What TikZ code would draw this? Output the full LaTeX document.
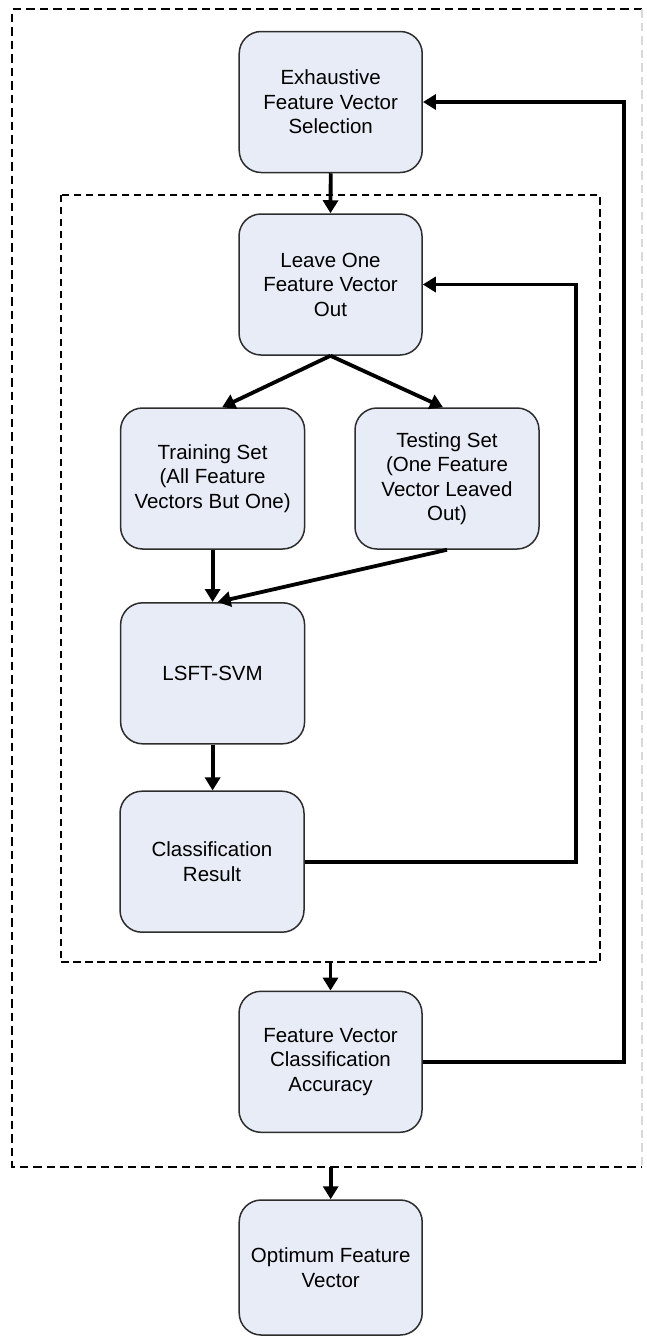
\documentclass[tikz,border=0pt]{standalone}
\usepackage{fontspec}
\setmainfont{Liberation Sans}
\usetikzlibrary{arrows.meta,calc}
\definecolor{boxfill}{RGB}{231,236,247}
\definecolor{boxline}{RGB}{45,45,45}
\tikzset{
  procbox/.style={draw=boxline, line width=1.5pt, fill=boxfill, rounded corners=22pt,
    minimum width=183pt, minimum height=141pt, inner sep=0pt, align=center,
    font=\fontsize{20.5}{24.5}\selectfont},
  flow/.style={line width=3.8pt, -{Triangle[length=13pt,width=15pt]}},
  loopline/.style={line width=3.8pt},
  outerdash/.style={line width=1.8pt, dash pattern=on 8.5pt off 5pt},
  innerdash/.style={line width=1.6pt, dash pattern=on 7.5pt off 4.5pt},
  frame/.style={draw=none, inner sep=0pt}
}
\begin{document}
\begin{tikzpicture}[x=1pt,y=-1pt]
\useasboundingbox (0,0) rectangle (646,1336);

% dashed enclosures
\node[frame, minimum width=629.5pt, minimum height=1157.7pt] (outer) at (327.25,588.15) {};
\node[frame, minimum width=538.5pt, minimum height=767pt] (inner) at (330.25,578.5) {};
\draw[outerdash] (outer.north east) -- (outer.north west) -- (outer.south west) -- (outer.south east);
\draw[outerdash, gray!30] (outer.north east) -- (outer.south east);
\draw[innerdash] (inner.north west) rectangle (inner.south east);

% process steps
\node[procbox] (select) at (330.7,102) {Exhaustive\\Feature Vector\\Selection};
\node[procbox] (leave) at (330.5,284.5) {Leave One\\Feature Vector\\Out};
\node[procbox, minimum width=184pt] (train) at (212.6,478.5) {Training Set\\(All Feature\\Vectors But One)};
\node[procbox, minimum width=184pt] (test) at (447,478.5) {Testing Set\\(One Feature\\Vector Leaved\\Out)};
\node[procbox, minimum width=184pt] (svm) at (212.6,673.3) {LSFT-SVM};
\node[procbox, minimum width=184pt] (result) at (212,861.7) {Classification\\Result};
\node[procbox] (acc) at (330.5,1061.8) {Feature Vector\\Classification\\Accuracy};
\node[procbox, minimum height=135pt] (best) at (330.7,1267.5) {Optimum Feature\\Vector};

% feedback rails
\coordinate (innerrail) at (575.6,0);
\coordinate (outerrail) at (624,0);

% forward flow
\draw[flow] (select.south) -- (leave.north);
\draw[flow] (leave.south) -- ($(train.north)+(9.5,0)$);
\draw[flow] (leave.south) -- ($(test.north)+(-4,0)$);
\draw[flow] (train.south) -- (svm.north);
\draw[flow] (test.south) -- ($(svm.north)+(5,0)$);
\draw[flow] (svm.south) -- (svm.south |- result.north);
\draw[flow] (inner.south -| acc.north) -- (acc.north);
\draw[flow] (outer.south -| best.north) -- (best.north);

% feedback loops
\draw[loopline, -{Triangle[length=13pt,width=15pt]}] (result.east) -- (result.east -| innerrail) -- (leave.east -| innerrail) -- (leave.east);
\draw[loopline, -{Triangle[length=13pt,width=15pt]}] (acc.east) -- (acc.east -| outerrail) -- (select.east -| outerrail) -- (select.east);
\end{tikzpicture}
\end{document}
